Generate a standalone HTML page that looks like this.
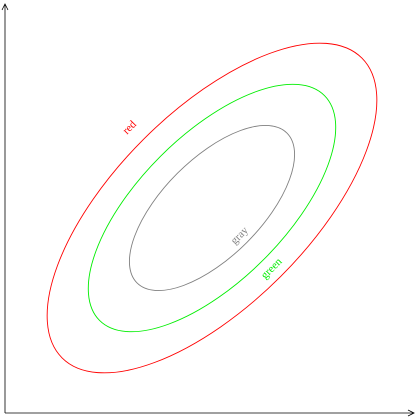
<!DOCTYPE html>
<html><head><meta charset="utf-8"><style>
html,body{margin:0;padding:0;background:#fff;}
svg{display:block;font-family:"Liberation Serif",serif;}
</style></head><body>
<svg id="chart" width="420" height="420" viewBox="0 0 420 420">
<defs><marker id="arr" markerWidth="8" markerHeight="8" refX="7" refY="4" orient="auto" markerUnits="userSpaceOnUse"><path d="M1,1 L7,4 L1,7" fill="none" stroke="#000" stroke-width="0.8"/></marker></defs>
<line x1="5" y1="413" x2="414" y2="413" stroke="#000" stroke-width="0.8" marker-end="url(#arr)"/>
<line x1="5" y1="413" x2="5" y2="4" stroke="#000" stroke-width="0.8" marker-end="url(#arr)"/>
<g id="ell"></g>
</svg>
<script>
const names = ['red','green','gray'];
const colors = ['#ff0000','#00ee00','#808080'];
const semiMajor = [212, 159, 106];
const semiMinor = [97, 73, 49];
const labelPos = [[130,128],[272,269],[240,236]];
const cx = 212, cy = 208;
const g = document.getElementById('ell');
const NS = 'http://www.w3.org/2000/svg';
for (let i = 0; i < names.length; i++) {
  const e = document.createElementNS(NS, 'ellipse');
  
  
  e.setAttribute('cx', cx); e.setAttribute('cy', cy);
  e.setAttribute('rx', semiMajor[i]); e.setAttribute('ry', semiMinor[i]);
  e.setAttribute('transform', 'rotate(-45 ' + cx + ' ' + cy + ')');
  e.setAttribute('fill', 'none'); e.setAttribute('stroke', colors[i]); e.setAttribute('stroke-width', '0.9');
  g.appendChild(e);
  const t = document.createElementNS(NS, 'text');
  
  
  const [lx, ly] = labelPos[i];
  t.setAttribute('x', lx); t.setAttribute('y', ly);
  t.setAttribute('text-anchor', 'middle');
  t.setAttribute('dominant-baseline', 'middle');
  t.setAttribute('font-size', '11');
  t.setAttribute('fill', colors[i]);
  t.setAttribute('transform', 'rotate(-45 ' + lx + ' ' + ly + ')');
  t.textContent = names[i];
  g.appendChild(t);
}
</script>
</body></html>
